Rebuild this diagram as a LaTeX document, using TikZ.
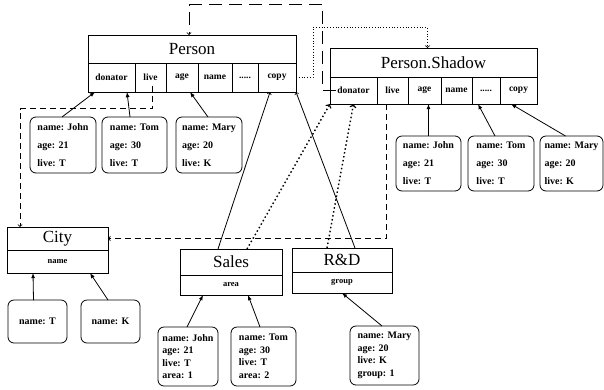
\documentclass[tikz,border=0pt]{standalone}
\usepackage{fontspec}
\setmainfont{Liberation Serif}
\usetikzlibrary{arrows,positioning}

\begin{document}
\begin{tikzpicture}[x=1pt, y=-1pt, line width=0.8pt,
        classhead/.style = { draw, outer sep=0, inner sep=0, anchor=north west, font=\fontsize{17}{17}\selectfont },
        field/.style = { draw, outer sep=0, inner sep=0, font=\bfseries\fontsize{9.5}{10}\selectfont },
        obj/.style = { draw, rounded corners=6pt, outer sep=0, inner sep=0, anchor=north west, align=left, font=\bfseries\fontsize{10}{18}\selectfont },
        obj4/.style = { obj, font=\bfseries\fontsize{10}{12.5}\selectfont },
        ref/.style = { ->, dash pattern=on 6pt off 4pt },
        shadowref/.style = { ->, line width=1.4pt, dash pattern=on 1.5pt off 2.5pt }
        ]
    \useasboundingbox (0,0) rectangle (604,389);

    % Person and its fields
    \node[classhead, minimum width=208pt, minimum height=28pt] (person) at (88,35) {Person};
    \begin{scope}[field/.append style={minimum height=29pt}]
        \node[field, minimum width=47pt, anchor=north west] (p-donator) at (person.south west) {donator};
        \node[field, minimum width=31pt, right=0pt of p-donator] (p-live) {live};
        \node[field, minimum width=32pt, right=0pt of p-live] (p-age) {age};
        \node[field, minimum width=34pt, right=0pt of p-age] (p-name) {name};
        \node[field, minimum width=26pt, right=0pt of p-name] (p-dots) {.....};
        \node[field, minimum width=38pt, right=0pt of p-dots] (p-copy) {copy};
    \end{scope}

    % Person.Shadow and its fields
    \node[classhead, minimum width=207pt, minimum height=29pt] (pshadow) at (330,48) {Person.Shadow};
    \begin{scope}[field/.append style={minimum height=27pt}]
        \node[field, minimum width=47pt, anchor=north west] (s-donator) at (pshadow.south west) {donator};
        \node[field, minimum width=31pt, right=0pt of s-donator] (s-live) {live};
        \node[field, minimum width=33pt, right=0pt of s-live] (s-age) {age};
        \node[field, minimum width=31pt, right=0pt of s-age] (s-name) {name};
        \node[field, minimum width=28pt, right=0pt of s-name] (s-dots) {.....};
        \node[field, minimum width=37pt, right=0pt of s-dots] (s-copy) {copy};
    \end{scope}

    % City, Sales, R&D
    \begin{scope}[field/.append style={font=\bfseries\fontsize{8.5}{9}\selectfont}]
        \node[classhead, minimum width=101pt, minimum height=23pt] (city) at (7,227) {City};
        \node[field, minimum width=101pt, minimum height=23pt, anchor=north west] (city-name) at (city.south west) {name};
        \node[classhead, minimum width=102pt, minimum height=26pt] (sales) at (180,249) {Sales};
        \node[field, minimum width=102pt, minimum height=20pt, anchor=north west] (sales-area) at (sales.south west) {area};
        \node[classhead, minimum width=100pt, minimum height=24pt] (rd) at (292,248) {R\&D};
        \node[field, minimum width=100pt, minimum height=21pt, anchor=north west] (rd-group) at (rd.south west) {group};
    \end{scope}

    % objects
    \node[obj, minimum width=66pt, minimum height=56pt] (pjohn) at (30,117) {name: John\\age: 21\\live: T};
    \node[obj, minimum width=65pt, minimum height=56pt] (ptom) at (102,117) {name: Tom\\age: 30\\live: T};
    \node[obj, minimum width=66pt, minimum height=56pt] (pmary) at (176,117) {name: Mary\\age: 20\\live: K};

    \node[obj, minimum width=65pt, minimum height=55pt] (sjohn) at (396,136) {name: John\\age: 21\\live: T};
    \node[obj, minimum width=66pt, minimum height=55pt] (stom) at (468,136) {name: Tom\\age: 30\\live: T};
    \node[obj, minimum width=63pt, minimum height=55pt] (smary) at (540,136) {name: Mary\\age: 20\\live: K};

    \node[obj, minimum width=59pt, minimum height=43pt] (ct) at (8,300) {name: T};
    \node[obj, minimum width=59pt, minimum height=43pt] (ck) at (81,300) {name: K};

    \node[obj4, minimum width=60pt, minimum height=59pt] (sjohn2) at (158,327) {name: John\\age: 21\\live: T\\area: 1};
    \node[obj4, minimum width=65pt, minimum height=59pt] (stom2) at (231,327) {name: Tom\\age: 30\\live: T\\area: 2};
    \node[obj4, minimum width=69pt, minimum height=59pt] (rmary) at (350,326) {name: Mary\\age: 20\\live: K\\group: 1};

    % object -> field
    \draw[-latex] ([xshift=-1pt]pjohn.north) -- ([xshift=-16.5pt]p-donator.south);
    \draw[-latex] ([xshift=-4.5pt]ptom.north) -- ([xshift=15.5pt]p-donator.south);
    \draw[-latex] ([xshift=-1pt]pmary.north) -- ([xshift=8pt]p-age.south);
    \draw[-latex] (sjohn.north) -- (sjohn.north |- s-age.south);
    \draw[-latex] ([xshift=-6pt]stom.north) -- ([xshift=-8pt]s-dots.south);
    \draw[-latex] ([xshift=-6pt]smary.north) -- ([xshift=-7.5pt]s-copy.south);
    \draw[-latex] ([xshift=-4pt]ct.north) -- ([xshift=-24.5pt]city-name.south);
    \draw[-latex] ([xshift=-2.5pt]ck.north) -- ([xshift=32.5pt]city-name.south);
    \draw[-latex] ([xshift=-1pt]sjohn2.north) -- ([xshift=-28pt]sales-area.south);
    \draw[-latex] ([xshift=-3.5pt]stom2.north) -- ([xshift=17pt]sales-area.south);
    \draw[-latex] ([xshift=-2.5pt]rmary.north) -- (rd-group.south);

    % subclasses
    \draw[->] ([xshift=-13pt]sales.north) -- ([xshift=-7pt]p-copy.south);
    \draw[->] ([xshift=13pt]rd.north) -- (p-copy.south east);
    \draw[shadowref] ([xshift=16pt]sales.north) -- (s-donator.south west);
    \draw[shadowref] ([xshift=-15pt]rd.north) -- (s-donator.south);

    % references
    \draw[ref] ([xshift=2pt,yshift=-8pt]p-live.center) -- ++(0,23) -| ([xshift=-37.5pt]city.north);
    \draw[ref] ([xshift=-6pt]s-live.south) |- (city.east);
    \draw[->, dash pattern=on 13pt off 7pt] ([xshift=-18pt]s-donator.center) -- ++(-13,0) -- ++(0,-86) -| ([xshift=-3pt]person.north);
    \draw[->, dotted] (p-copy.east) -- ++(17,0) -- ++(0,-50) -| ([xshift=-6pt]pshadow.north);
\end{tikzpicture}
\end{document}
